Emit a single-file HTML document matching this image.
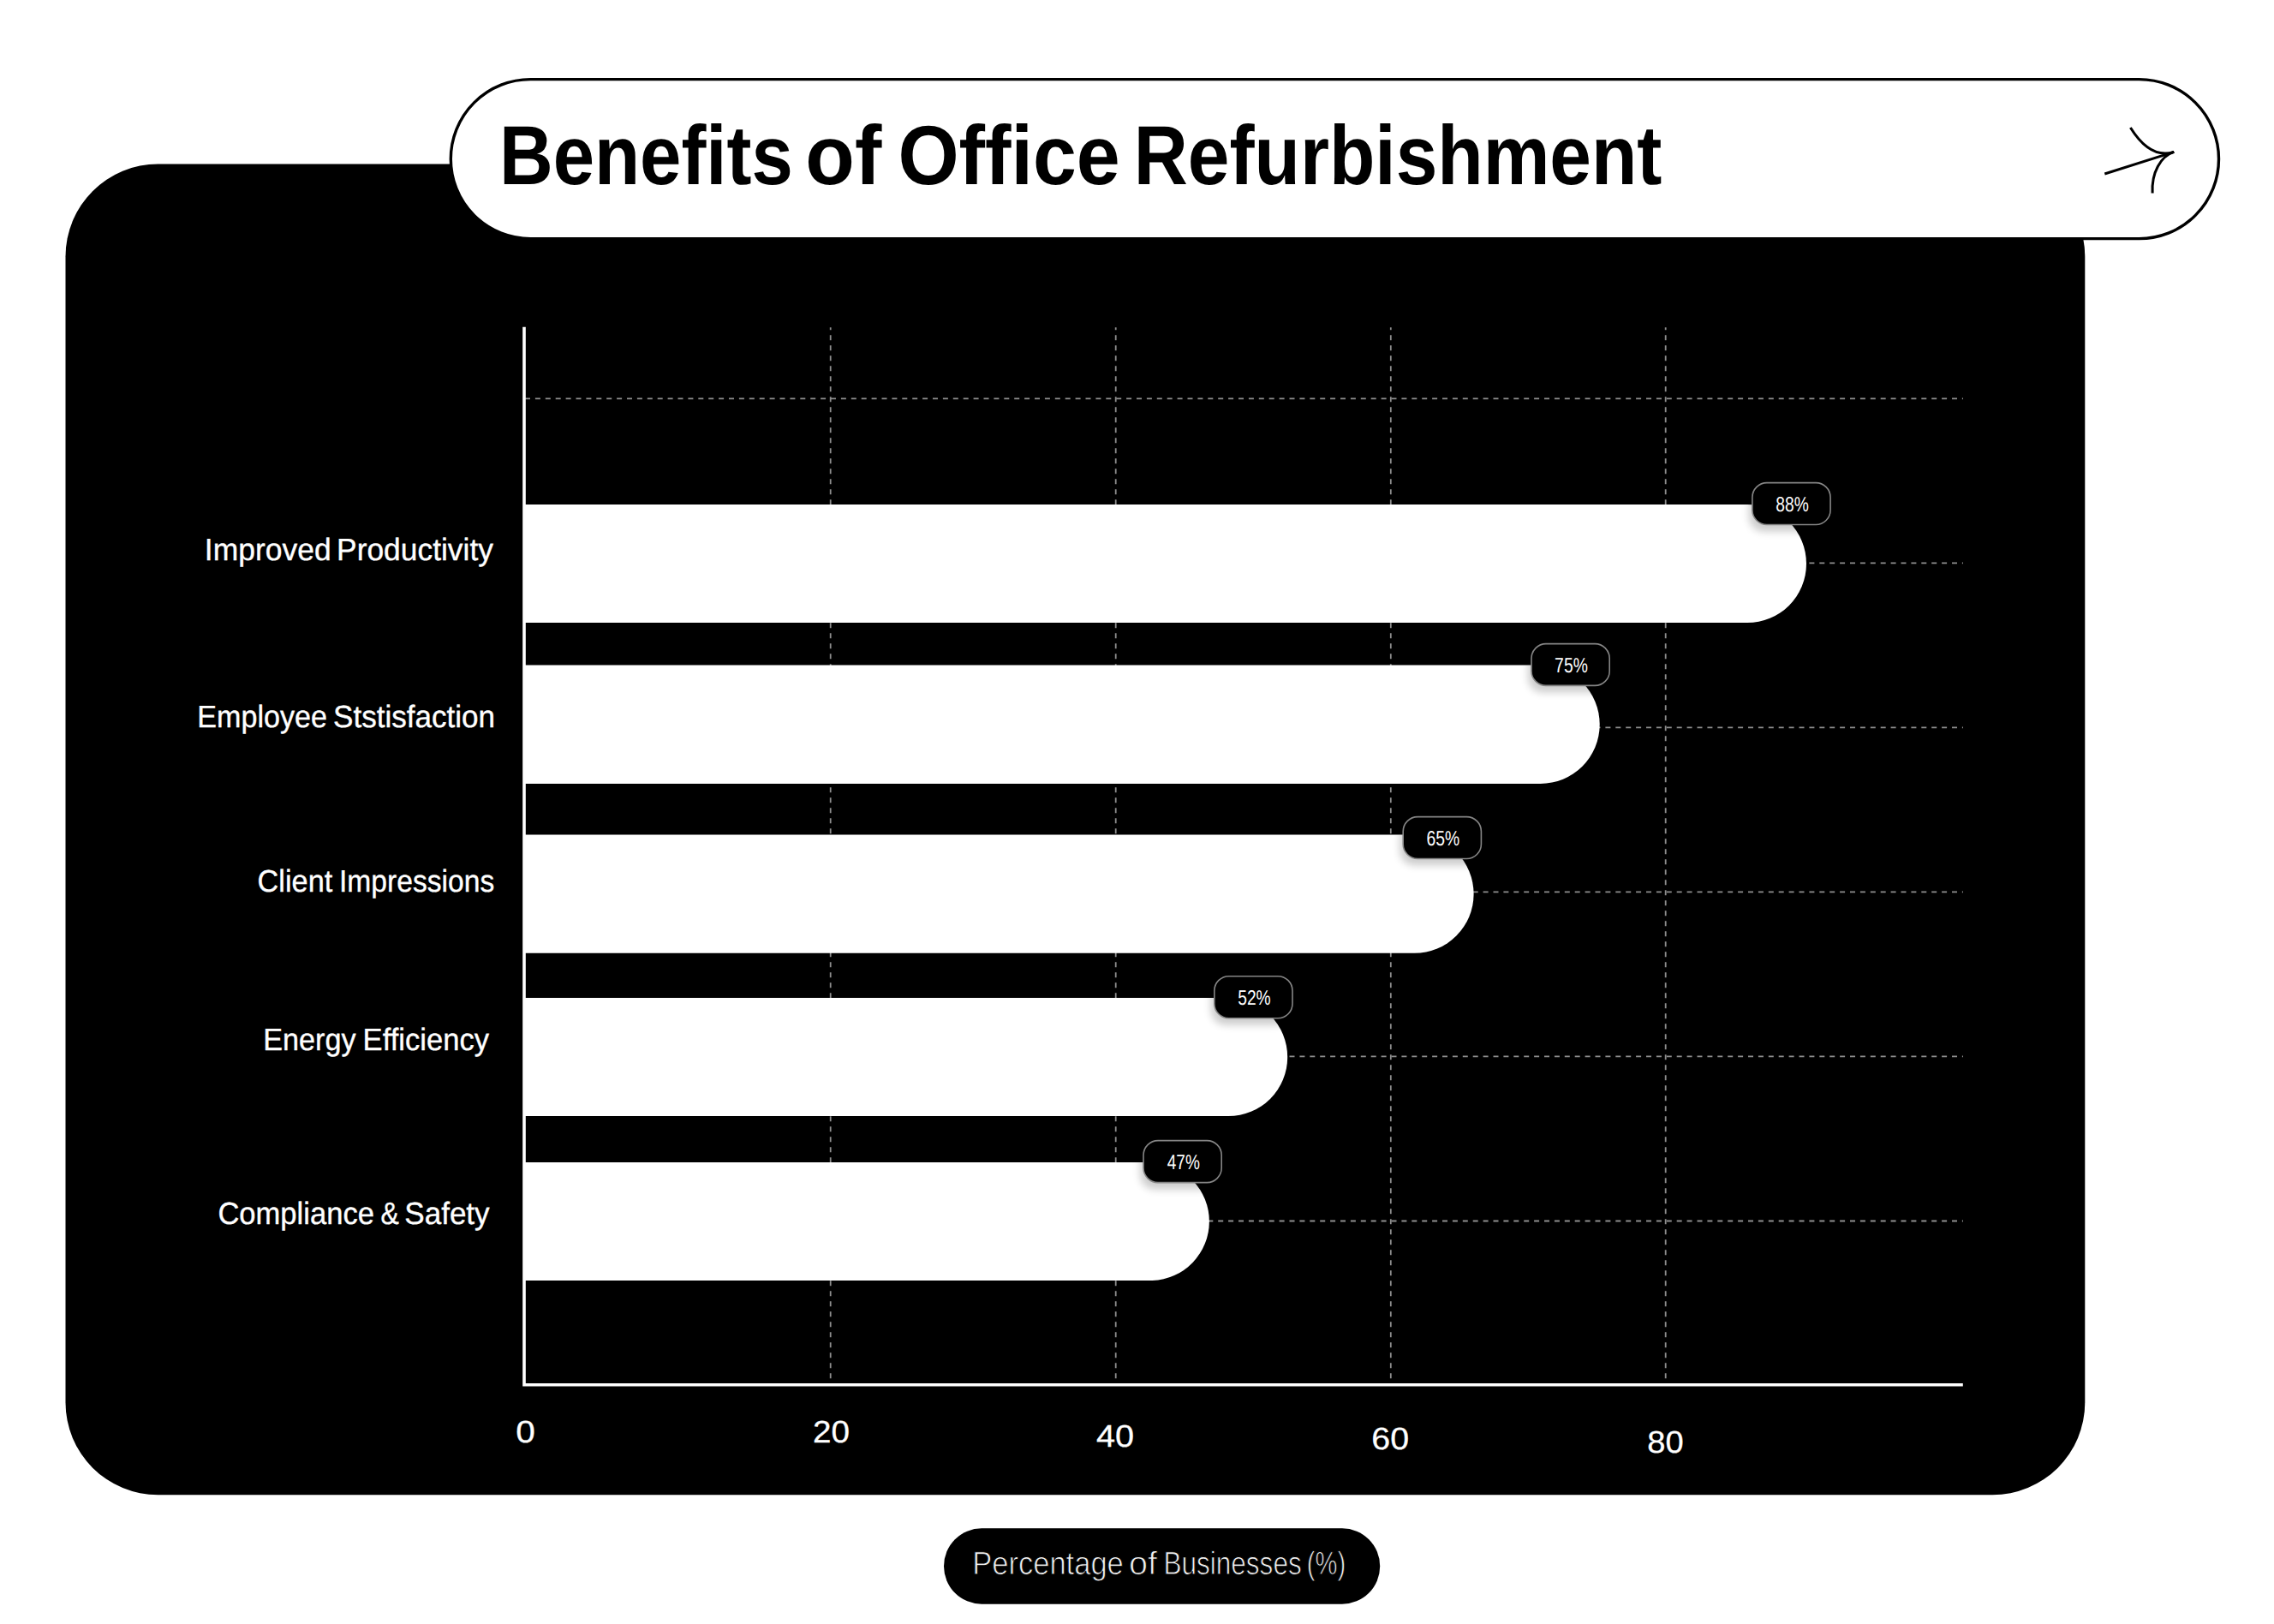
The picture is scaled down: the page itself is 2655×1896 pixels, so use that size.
<!DOCTYPE html>
<html lang="en">
<head>
<meta charset="utf-8">
<title>Benefits of Office Refurbishment</title>
<style>
html,body{margin:0;padding:0;background:#fff;}
body{width:2655px;height:1896px;overflow:hidden;font-family:"Liberation Sans", sans-serif;}
svg{display:block;position:absolute;left:0;top:0;}
text{font-family:"Liberation Sans", sans-serif;text-rendering:geometricPrecision;}
.grid{stroke:#8e8e8e;stroke-width:1.8;fill:none;}
.gv{stroke-dasharray:6 6;stroke-dashoffset:3.0;}
.gh{stroke-dasharray:6 5.9;}
.axis{stroke:#fff;stroke-width:3.6;fill:none;}
.bar{fill:#fff;}
.badge{fill:#000;stroke:#858585;stroke-width:1.6;}
</style>
</head>
<body>
<svg width="2655" height="1896" viewBox="0 0 2655 1896">
<defs>
<filter id="sh" x="-40%" y="-40%" width="180%" height="220%">
<feGaussianBlur stdDeviation="5"/>
</filter>
</defs>

<rect x="76.5" y="191.5" width="2357.8" height="1553.8" rx="108" ry="108" fill="#000"/>
<rect x="526.30" y="92.65" width="2064.2" height="186.0" rx="93.0" fill="#fff" stroke="#000" stroke-width="3.4"/>
<g font-size="100" font-weight="700" fill="#000">
<text transform="translate(582.97 215.30) scale(0.8688 0.9786)">Benefits</text>
<text transform="translate(940.36 215.30) scale(0.9422 0.9786)">of</text>
<text transform="translate(1048.44 215.30) scale(0.9147 0.9786)">Office</text>
<text transform="translate(1323.74 215.30) scale(0.8740 0.9786)">Refurbishment</text>
</g>
<g fill="none" stroke="#000" stroke-width="3" stroke-linecap="butt">
<path d="M2457.3 203 L2538.2 177.4"/>
<path d="M2487.4 149 C2498 166 2515.3 184.6 2538.2 177.4"/>
<path d="M2538.2 177.4 C2522.9 182.2 2511.7 201.5 2513.1 225.5"/>
</g>
<g class="grid">
<line class="gv" x1="969.7" y1="382.3" x2="969.7" y2="1616.7"/>
<line class="gv" x1="1302.7" y1="382.3" x2="1302.7" y2="1616.7"/>
<line class="gv" x1="1623.8" y1="382.3" x2="1623.8" y2="1616.7"/>
<line class="gv" x1="1944.7" y1="382.3" x2="1944.7" y2="1616.7"/>
<line class="gh" x1="613" y1="465.3" x2="2292" y2="465.3"/>
<line class="gh" x1="613" y1="657.3" x2="2292" y2="657.3"/>
<line class="gh" x1="613" y1="849.4" x2="2292" y2="849.4"/>
<line class="gh" x1="613" y1="1041.4" x2="2292" y2="1041.4"/>
<line class="gh" x1="613" y1="1233.4" x2="2292" y2="1233.4"/>
<line class="gh" x1="613" y1="1425.5" x2="2292" y2="1425.5"/>
</g>
<path class="axis" d="M612 381.8 V1616.7 H2291.8"/>
<path class="bar" d="M612 589.1 H2040.0 A69.0 69.0 0 0 1 2040.0 727.1 H612 Z"/>
<path class="bar" d="M612 776.5 H1798.5 A69.2 69.2 0 0 1 1798.5 914.9 H612 Z"/>
<path class="bar" d="M612 974.6 H1651.5 A69.1 69.1 0 0 1 1651.5 1112.8 H612 Z"/>
<path class="bar" d="M612 1165.1 H1434.2 A69.0 69.0 0 0 1 1434.2 1303.1 H612 Z"/>
<path class="bar" d="M612 1357.1 H1345.5 A69.0 69.0 0 0 1 1345.5 1495.0 H612 Z"/>
<clipPath id="c0"><path d="M612 589.1 H2040.0 A69.0 69.0 0 0 1 2040.0 727.1 H612 Z"/></clipPath>
<g clip-path="url(#c0)"><rect x="2042.1" y="569.9" width="92.8" height="50.5" rx="17" fill="#000" opacity="0.2" filter="url(#sh)"/></g>
<rect class="badge" x="2045.9" y="563.6" width="91.2" height="48.9" rx="17"/>
<g font-size="100" font-weight="400" fill="#fff">
<text transform="translate(2073.35 597.03) scale(0.1922 0.2429)">88%</text>
</g>
<clipPath id="c1"><path d="M612 776.5 H1798.5 A69.2 69.2 0 0 1 1798.5 914.9 H612 Z"/></clipPath>
<g clip-path="url(#c1)"><rect x="1784.2" y="757.9" width="92.8" height="50.4" rx="17" fill="#000" opacity="0.2" filter="url(#sh)"/></g>
<rect class="badge" x="1788.0" y="751.6" width="91.2" height="48.8" rx="17"/>
<g font-size="100" font-weight="400" fill="#fff">
<text transform="translate(1815.12 784.93) scale(0.1938 0.2429)">75%</text>
</g>
<clipPath id="c2"><path d="M612 974.6 H1651.5 A69.1 69.1 0 0 1 1651.5 1112.8 H612 Z"/></clipPath>
<g clip-path="url(#c2)"><rect x="1634.5" y="959.8" width="92.8" height="50.5" rx="17" fill="#000" opacity="0.2" filter="url(#sh)"/></g>
<rect class="badge" x="1638.2" y="953.6" width="91.2" height="48.9" rx="17"/>
<g font-size="100" font-weight="400" fill="#fff">
<text transform="translate(1665.39 986.95) scale(0.1938 0.2429)">65%</text>
</g>
<clipPath id="c3"><path d="M612 1165.1 H1434.2 A69.0 69.0 0 0 1 1434.2 1303.1 H612 Z"/></clipPath>
<g clip-path="url(#c3)"><rect x="1414.0" y="1145.9" width="92.8" height="50.6" rx="17" fill="#000" opacity="0.2" filter="url(#sh)"/></g>
<rect class="badge" x="1417.8" y="1139.7" width="91.2" height="49.0" rx="17"/>
<g font-size="100" font-weight="400" fill="#fff">
<text transform="translate(1445.20 1173.10) scale(0.1922 0.2429)">52%</text>
</g>
<clipPath id="c4"><path d="M612 1357.1 H1345.5 A69.0 69.0 0 0 1 1345.5 1495.0 H612 Z"/></clipPath>
<g clip-path="url(#c4)"><rect x="1331.2" y="1337.8" width="92.8" height="50.6" rx="17" fill="#000" opacity="0.2" filter="url(#sh)"/></g>
<rect class="badge" x="1335.0" y="1331.6" width="91.2" height="49.0" rx="17"/>
<g font-size="100" font-weight="400" fill="#fff">
<text transform="translate(1362.75 1365.03) scale(0.1907 0.2429)">47%</text>
</g>
<g font-size="100" font-weight="400" fill="#fff" stroke="#fff" stroke-width="1.0">
<text transform="translate(238.83 653.65) scale(0.3547 0.3619)">Improved</text>
<text transform="translate(393.04 653.65) scale(0.3538 0.3619)">Productivity</text>
</g>
<g font-size="100" font-weight="400" fill="#fff" stroke="#fff" stroke-width="1.0">
<text transform="translate(230.23 848.65) scale(0.3413 0.3619)">Employee</text>
<text transform="translate(389.11 848.65) scale(0.3501 0.3619)">Ststisfaction</text>
</g>
<g font-size="100" font-weight="400" fill="#fff" stroke="#fff" stroke-width="1.0">
<text transform="translate(300.59 1040.75) scale(0.3430 0.3619)">Client</text>
<text transform="translate(395.97 1040.75) scale(0.3363 0.3619)">Impressions</text>
</g>
<g font-size="100" font-weight="400" fill="#fff" stroke="#fff" stroke-width="1.0">
<text transform="translate(307.23 1226.45) scale(0.3417 0.3619)">Energy</text>
<text transform="translate(423.60 1226.45) scale(0.3459 0.3619)">Efficiency</text>
</g>
<g font-size="100" font-weight="400" fill="#fff" stroke="#fff" stroke-width="1.0">
<text transform="translate(254.38 1428.55) scale(0.3457 0.3619)">Compliance</text>
<text transform="translate(444.40 1428.55) scale(0.3200 0.3619)">&amp;</text>
<text transform="translate(472.31 1428.55) scale(0.3503 0.3619)">Safety</text>
</g>
<g font-size="100" font-weight="400" fill="#fff" stroke="#fff" stroke-width="0.8">
<text transform="translate(602.23 1684.40) scale(0.4060 0.3634)">0</text>
</g>
<g font-size="100" font-weight="400" fill="#fff" stroke="#fff" stroke-width="0.8">
<text transform="translate(949.09 1684.00) scale(0.3863 0.3634)">20</text>
</g>
<g font-size="100" font-weight="400" fill="#fff" stroke="#fff" stroke-width="0.8">
<text transform="translate(1279.88 1689.40) scale(0.3965 0.3634)">40</text>
</g>
<g font-size="100" font-weight="400" fill="#fff" stroke="#fff" stroke-width="0.8">
<text transform="translate(1601.36 1692.30) scale(0.3931 0.3634)">60</text>
</g>
<g font-size="100" font-weight="400" fill="#fff" stroke="#fff" stroke-width="0.8">
<text transform="translate(1923.31 1696.00) scale(0.3806 0.3634)">80</text>
</g>
<rect x="1102" y="1784.3" width="509.2" height="88.4" rx="44.2" fill="#000"/>
<g font-size="100" font-weight="400" fill="#f0f0f0" stroke="#000" stroke-width="2.4">
<text transform="translate(1135.20 1837.70) scale(0.3453 0.3808)">Percentage</text>
<text transform="translate(1318.06 1837.70) scale(0.3957 0.3808)">of</text>
<text transform="translate(1358.44 1837.70) scale(0.3153 0.3808)">Businesses</text>
<text transform="translate(1525.83 1837.70) scale(0.2918 0.3808)">(%)</text>
</g>
</svg>
</body>
</html>
